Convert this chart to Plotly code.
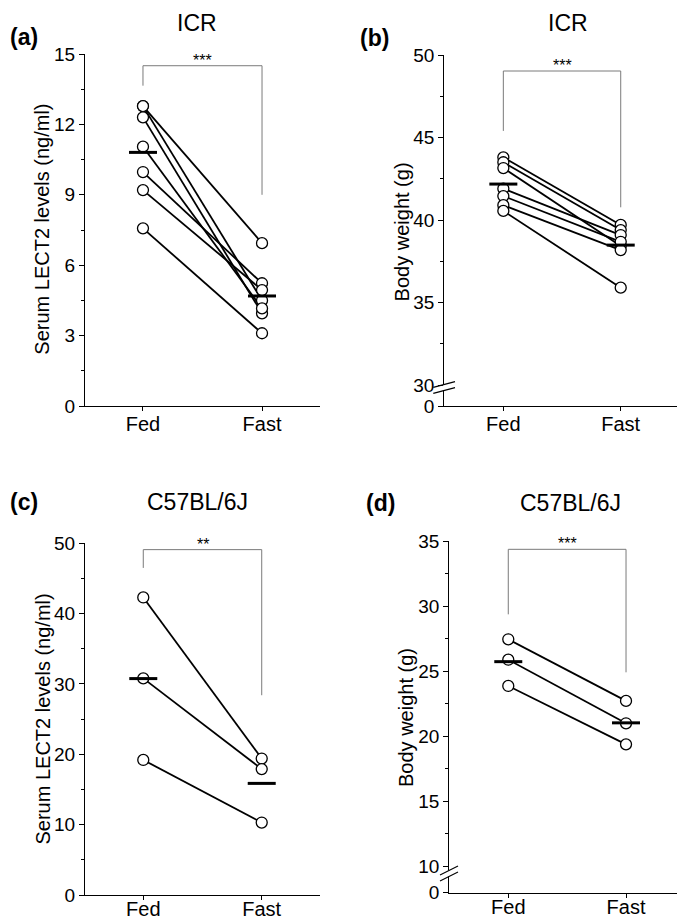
import numpy as np
import plotly.graph_objects as go

# the page body keeps its default 8px margin, so the figure is drawn 8px smaller
# and all positions below are page pixels shifted by that offset
PAGE_W, PAGE_H = 685, 919
OFF = 8
W, H = PAGE_W - OFF, PAGE_H - OFF
FONT = "Liberation Sans, Arial, sans-serif"

groups = ["Fed", "Fast"]

# (a) ICR serum LECT2 (ng/ml), paired
icr_lect2_fed = [12.78, 12.78, 12.30, 11.05, 9.97, 9.20, 7.57]
icr_lect2_fast = [6.94, 4.50, 3.95, 4.16, 5.23, 4.94, 3.10]

# (b) ICR body weight (g), paired
icr_bw_fed = [43.80, 43.50, 43.15, 41.90, 41.45, 40.90, 40.55]
icr_bw_fast = [39.70, 39.39, 38.42, 39.09, 38.68, 38.18, 35.90]

# (c) C57BL/6J serum LECT2 (ng/ml)
b6_lect2_fed = [42.3, 30.8, 19.2]
b6_lect2_fast = [19.4, 17.9, 10.3]

# (d) C57BL/6J body weight (g)
b6_bw_fed = [27.44, 25.87, 23.85]
b6_bw_fast = [22.70, 20.98, 19.36]

# significance brackets: (left leg end, top, right leg end), label
brackets = {
    "a": ([13.65, 14.5, 9.0], "***"),
    "b": ([45.4, 49.03, 40.77], "***"),
    "c": ([46.5, 49.1, 28.4], "**"),
    "d": ([29.36, 34.36, 24.9], "***"),
}


def px(x):
    return (x - OFF) / W


def py(y):
    return 1 - (y - OFF) / H


panels = [
    dict(key="a", fed=icr_lect2_fed, fast=icr_lect2_fast, title="ICR",
         ytitle="Serum LECT2 levels (ng/ml)", box=(85, 320, 54, 406),
         xr=[-0.487, 1.487], yr=[0, 15], tv=[0, 3, 6, 9, 12, 15], tt=None,
         minor=[1.5, 4.5, 7.5, 10.5, 13.5], lab=(8, 37), tpos=(197, OFF, "top"),
         ypos=(41.7, 229), brk=None, xstand=-4),
    dict(key="b", fed=icr_bw_fed, fast=icr_bw_fast, title="ICR",
         ytitle="Body weight (g)", box=(444.3, 678, 55, 406),
         xr=[-0.503, 1.488], yr=[28.73, 50], tv=[28.73, 30, 35, 40, 45, 50],
         tt=["0", "30", "35", "40", "45", "50"],
         minor=[32.5, 37.5, 42.5, 47.5], lab=(357.5, 38.3), tpos=(567.7, OFF, "top"),
         ypos=(401.7, 231.7), brk=(433.3, 455, 387.3, 381.7, 6), xstand=-4),
    dict(key="c", fed=b6_lect2_fed, fast=b6_lect2_fast, title="C57BL/6J",
         ytitle="Serum LECT2 levels (ng/ml)", box=(85, 320, 543.3, 895),
         xr=[-0.492, 1.492], yr=[0, 50], tv=[0, 10, 20, 30, 40, 50], tt=None,
         minor=[5, 15, 25, 35, 45], lab=(8, 501.7), tpos=(197, 501.7, "middle"),
         ypos=(42.5, 719), brk=None, xstand=-8),
    dict(key="d", fed=b6_bw_fed, fast=b6_bw_fast, title="C57BL/6J",
         ytitle="Body weight (g)", box=(449.3, 683, 541, 892.7),
         xr=[-0.501, 1.484], yr=[7.95, 35], tv=[7.95, 10, 15, 20, 25, 30, 35],
         tt=["0", "10", "15", "20", "25", "30", "35"],
         minor=[12.5, 17.5, 22.5, 27.5, 32.5], lab=(364, 503.3), tpos=(570, 503, "middle"),
         ypos=(406, 718), brk=(440, 458, 875, 866, 6), xstand=-8),
]

fig = go.Figure()
annotations = []
shapes = []
layout_axes = {}

for i, p in enumerate(panels):
    n = "" if i == 0 else str(i + 1)
    xa, ya = "x" + n, "y" + n
    x0, x1, yt, yb = p["box"]

    # paired lines
    for f, s in zip(p["fed"], p["fast"]):
        fig.add_trace(go.Scatter(
            x=[0, 1], y=[f, s], xaxis=xa, yaxis=ya, mode="lines",
            line=dict(color="black", width=1.8), showlegend=False, hoverinfo="skip",
        ))
    # open circles
    xs = [0] * len(p["fed"]) + [1] * len(p["fast"])
    ys = list(p["fed"]) + list(p["fast"])
    fig.add_trace(go.Scatter(
        x=xs, y=ys, xaxis=xa, yaxis=ya, mode="markers", showlegend=False,
        marker=dict(size=11, color="white", line=dict(color="black", width=1.3)),
        cliponaxis=False,
    ))
    # mean bars
    fig.add_trace(go.Scatter(
        x=[0, 1], y=[np.mean(p["fed"]), np.mean(p["fast"])], xaxis=xa, yaxis=ya,
        mode="markers", showlegend=False, cliponaxis=False,
        marker=dict(symbol="line-ew", size=20, line=dict(color="black", width=3)),
    ))
    # significance bracket
    (yl, ytop, yr_), star = brackets[p["key"]]
    fig.add_trace(go.Scatter(
        x=[0, 0, 1, 1], y=[yl, ytop, ytop, yr_], xaxis=xa, yaxis=ya, mode="lines",
        line=dict(color="#7a7a7a", width=1), showlegend=False, cliponaxis=False,
    ))
    annotations.append(dict(
        x=0.5, y=ytop, xref=xa, yref=ya, text=star, showarrow=False,
        yanchor="bottom", yshift=-5, font=dict(size=16, color="black", family=FONT),
    ))

    layout_axes["xaxis" + n] = dict(
        domain=[px(x0), px(x1)], range=p["xr"], anchor=ya, automargin=False,
        tickvals=[0, 1], ticktext=groups, ticks="outside", ticklen=4,
        ticklabelstandoff=p["xstand"],
        tickcolor="black", showline=True, linecolor="black", linewidth=1.2,
        showgrid=False, zeroline=False, tickfont=dict(size=20, color="black"),
    )
    yax = dict(
        domain=[py(yb), py(yt)], range=p["yr"], anchor=xa, automargin=False,
        tickvals=p["tv"], ticks="outside", ticklen=5, tickcolor="black",
        showline=True, linecolor="black", linewidth=1.2, showgrid=False,
        zeroline=False, tickfont=dict(size=19, color="black"),
        minor=dict(tickvals=p["minor"], ticks="outside", ticklen=3, tickcolor="black"),
    )
    if p["tt"] is not None:
        yax["ticktext"] = p["tt"]
    layout_axes["yaxis" + n] = yax

    # panel letter, title, y-axis title
    annotations.append(dict(
        x=px(p["lab"][0]), y=py(p["lab"][1]), xref="paper", yref="paper",
        text="<b>(%s)</b>" % p["key"], showarrow=False, xanchor="left", yanchor="middle",
        font=dict(size=23, color="black", family=FONT),
    ))
    tx, ty, tanchor = p["tpos"]
    annotations.append(dict(
        x=px(tx), y=py(ty), xref="paper", yref="paper",
        text=p["title"], showarrow=False, xanchor="center", yanchor=tanchor,
        font=dict(size=23, color="black", family=FONT),
    ))
    annotations.append(dict(
        x=px(p["ypos"][0]), y=py(p["ypos"][1]), xref="paper", yref="paper",
        text=p["ytitle"], showarrow=False, textangle=-90, xanchor="center",
        yanchor="middle", font=dict(size=20, color="black", family=FONT),
    ))

    # axis break marks
    if p["brk"] is not None:
        bx0, bx1, by0, by1, gap = p["brk"]
        axis_x = x0
        mid_lo = (by0 + by1) / 2
        shapes.append(dict(
            type="line", xref="paper", yref="paper",
            x0=px(axis_x), x1=px(axis_x), y0=py(mid_lo), y1=py(mid_lo + gap),
            line=dict(color="white", width=3), layer="above",
        ))
        for off in (0, gap):
            shapes.append(dict(
                type="line", xref="paper", yref="paper",
                x0=px(bx0), y0=py(by0 + off), x1=px(bx1), y1=py(by1 + off),
                line=dict(color="black", width=1.2), layer="above",
            ))

fig.update_layout(
    width=W, height=H, margin=dict(l=0, r=0, t=0, b=0),
    paper_bgcolor="white", plot_bgcolor="white",
    font=dict(family=FONT, color="black"),
    annotations=annotations, shapes=shapes, showlegend=False,
    **layout_axes,
)

fig.write_html("out.html")
